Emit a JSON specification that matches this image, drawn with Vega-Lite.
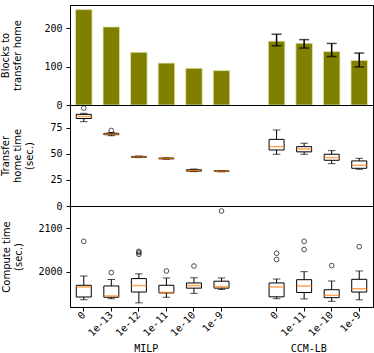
{
  "$schema": "https://vega.github.io/schema/vega-lite/v6.json",
  "padding": {"left": 0, "top": 4, "right": 0, "bottom": 0},
  "background": "white",
  "spacing": 0,
  "bounds": "flush",
  "config": {
    "view": {"stroke": "black", "strokeWidth": 1},
    "axis": {
      "grid": false,
      "domainColor": "black",
      "tickColor": "black",
      "tickSize": 4,
      "labelColor": "black",
      "labelFont": "DejaVu Sans Mono",
      "labelFontSize": 10,
      "labelPadding": 4,
      "labelOverlap": false,
      "labelFlush": false,
      "titleFont": "DejaVu Sans",
      "titleFontSize": 10,
      "titleFontWeight": "normal",
      "titleColor": "black",
      "titleLineHeight": 12,
      "titlePadding": 15
    }
  },
  "datasets": {
    "blocks": [
      {"run": "MILP 0", "blocks": 248},
      {"run": "MILP 1e-13", "blocks": 203},
      {"run": "MILP 1e-12", "blocks": 137},
      {"run": "MILP 1e-11", "blocks": 109},
      {"run": "MILP 1e-10", "blocks": 95.5},
      {"run": "MILP 1e-9", "blocks": 89.5},
      {"run": "CCM-LB 0", "blocks": 166, "lo": 154, "hi": 184},
      {"run": "CCM-LB 1e-11", "blocks": 160.5, "lo": 148, "hi": 170},
      {"run": "CCM-LB 1e-10", "blocks": 139, "lo": 126, "hi": 160},
      {"run": "CCM-LB 1e-9", "blocks": 116, "lo": 99, "hi": 135}
    ],
    "transfer": [
      {"run": "MILP 0", "min": 81, "q1": 84, "med": 86, "q3": 88, "max": 89},
      {"run": "MILP 1e-13", "min": 67.5, "q1": 68.5, "med": 69, "q3": 69.8, "max": 70.5},
      {"run": "MILP 1e-12", "min": 46.5, "q1": 46.8, "med": 47.2, "q3": 47.6, "max": 48},
      {"run": "MILP 1e-11", "min": 45, "q1": 45.3, "med": 45.7, "q3": 46, "max": 46.3},
      {"run": "MILP 1e-10", "min": 33, "q1": 33.5, "med": 34, "q3": 34.8, "max": 35.5},
      {"run": "MILP 1e-9", "min": 32.8, "q1": 33.1, "med": 33.4, "q3": 33.8, "max": 34},
      {"run": "CCM-LB 0", "min": 49.7, "q1": 53.8, "med": 57, "q3": 64, "max": 73},
      {"run": "CCM-LB 1e-11", "min": 49.7, "q1": 52, "med": 54.8, "q3": 57, "max": 60.3},
      {"run": "CCM-LB 1e-10", "min": 40.7, "q1": 43.9, "med": 46.5, "q3": 49.7, "max": 53.2},
      {"run": "CCM-LB 1e-9", "min": 35.3, "q1": 36.2, "med": 39.1, "q3": 43.3, "max": 45.8}
    ],
    "transfer_out": [
      {"run": "MILP 0", "value": 94},
      {"run": "MILP 1e-13", "value": 72.5}
    ],
    "compute": [
      {"run": "MILP 0", "min": 1935.3, "q1": 1941.6, "med": 1964.7, "q3": 1968.6, "max": 1990},
      {"run": "MILP 1e-13", "min": 1937.6, "q1": 1941, "med": 1944, "q3": 1967, "max": 1982},
      {"run": "MILP 1e-12", "min": 1928, "q1": 1953, "med": 1968, "q3": 1984, "max": 1995},
      {"run": "MILP 1e-11", "min": 1941, "q1": 1951, "med": 1952, "q3": 1968.6, "max": 1985.5},
      {"run": "MILP 1e-10", "min": 1950, "q1": 1962, "med": 1968, "q3": 1974, "max": 1986},
      {"run": "MILP 1e-9", "min": 1959, "q1": 1962, "med": 1965.4, "q3": 1978, "max": 1985.5},
      {"run": "CCM-LB 0", "min": 1937.7, "q1": 1942, "med": 1964.7, "q3": 1974, "max": 1983},
      {"run": "CCM-LB 1e-11", "min": 1937, "q1": 1952, "med": 1967, "q3": 1981.5, "max": 2000},
      {"run": "CCM-LB 1e-10", "min": 1931.6, "q1": 1940, "med": 1945.5, "q3": 1958.4, "max": 1978.5},
      {"run": "CCM-LB 1e-9", "min": 1935, "q1": 1953, "med": 1960.7, "q3": 1982.4, "max": 2001.6}
    ],
    "compute_out": [
      {"run": "MILP 0", "value": 2070},
      {"run": "MILP 1e-13", "value": 1998},
      {"run": "MILP 1e-12", "value": 2047},
      {"run": "MILP 1e-12", "value": 2044},
      {"run": "MILP 1e-12", "value": 2040},
      {"run": "MILP 1e-11", "value": 2001.6},
      {"run": "MILP 1e-10", "value": 2013},
      {"run": "MILP 1e-9", "value": 2140},
      {"run": "CCM-LB 0", "value": 2042.4},
      {"run": "CCM-LB 0", "value": 2028},
      {"run": "CCM-LB 1e-11", "value": 2070},
      {"run": "CCM-LB 1e-11", "value": 2051},
      {"run": "CCM-LB 1e-10", "value": 2014},
      {"run": "CCM-LB 1e-9", "value": 2057.7}
    ]
  },
  "vconcat": [
    {
      "width": 303,
      "height": 100,
      "encoding": {
        "x": {"field": "run", "type": "nominal", "sort": null,
          "scale": {"domain": ["MILP 0", "MILP 1e-13", "MILP 1e-12", "MILP 1e-11", "MILP 1e-10", "MILP 1e-9", "gap", "CCM-LB 0", "CCM-LB 1e-11", "CCM-LB 1e-10", "CCM-LB 1e-9"], "paddingInner": 0, "paddingOuter": 0},
          "axis": null}
      },
      "layer": [
        {
          "data": {"name": "blocks"},
          "mark": {"type": "bar", "color": "#808000", "stroke": "#e4e4b4", "strokeWidth": 0.8, "width": {"band": 0.6}},
          "encoding": {
            "y": {"field": "blocks", "type": "quantitative", "scale": {"domain": [0, 260], "nice": false},
              "axis": {"values": [0, 100, 200], "labelOverlap": false, "title": ["Blocks to", "transfer home"], "titlePadding": 21}}
          }
        },
        {
          "data": {"name": "blocks"},
          "transform": [{"filter": "isValid(datum.lo)"}],
          "mark": {"type": "rule", "color": "black", "strokeWidth": 1.5},
          "encoding": {
            "y": {"field": "lo", "type": "quantitative"},
            "y2": {"field": "hi"}
          }
        },
        {
          "data": {"name": "blocks"},
          "transform": [{"filter": "isValid(datum.lo)"}],
          "mark": {"type": "tick", "color": "black", "size": 10, "thickness": 1.5, "orient": "horizontal"},
          "encoding": {"y": {"field": "lo", "type": "quantitative"}}
        },
        {
          "data": {"name": "blocks"},
          "transform": [{"filter": "isValid(datum.lo)"}],
          "mark": {"type": "tick", "color": "black", "size": 10, "thickness": 1.5, "orient": "horizontal"},
          "encoding": {"y": {"field": "hi", "type": "quantitative"}}
        }
      ]
    },
    {
      "width": 303,
      "height": 101,
      "resolve": {"axis": {"y": "independent"}},
      "encoding": {
        "x": {"field": "run", "type": "nominal", "sort": null,
          "scale": {"domain": ["MILP 0", "MILP 1e-13", "MILP 1e-12", "MILP 1e-11", "MILP 1e-10", "MILP 1e-9", "gap", "CCM-LB 0", "CCM-LB 1e-11", "CCM-LB 1e-10", "CCM-LB 1e-9"], "paddingInner": 0, "paddingOuter": 0},
          "axis": null}
      },
      "layer": [
        {
          "data": {"name": "transfer"},
          "mark": {"type": "rule", "color": "black", "strokeWidth": 1},
          "encoding": {
            "y": {"field": "min", "type": "quantitative", "scale": {"domain": [0, 97], "nice": false},
              "axis": {"orient": "left", "values": [0, 50], "labelOverlap": false, "title": ["Transfer", "home time", "(sec.)"]}},
            "y2": {"field": "q1"}
          }
        },
        {
          "data": {"name": "transfer"},
          "mark": {"type": "rule", "color": "black", "strokeWidth": 1},
          "encoding": {"y": {"field": "q3", "type": "quantitative",
            "axis": {"orient": "left", "values": [25, 75], "labelOverlap": false, "title": null}}, "y2": {"field": "max"}}
        },
        {
          "data": {"name": "transfer"},
          "mark": {"type": "tick", "color": "black", "size": 7.5, "thickness": 1, "orient": "horizontal"},
          "encoding": {"y": {"field": "min", "type": "quantitative", "axis": null}}
        },
        {
          "data": {"name": "transfer"},
          "mark": {"type": "tick", "color": "black", "size": 7.5, "thickness": 1, "orient": "horizontal"},
          "encoding": {"y": {"field": "max", "type": "quantitative", "axis": null}}
        },
        {
          "data": {"name": "transfer"},
          "mark": {"type": "bar", "fill": "white", "stroke": "black", "strokeWidth": 1, "width": 15},
          "encoding": {"y": {"field": "q1", "type": "quantitative", "axis": null}, "y2": {"field": "q3"}}
        },
        {
          "data": {"name": "transfer"},
          "mark": {"type": "tick", "color": "#ff7f0e", "size": 15, "thickness": 1.5, "orient": "horizontal"},
          "encoding": {"y": {"field": "med", "type": "quantitative", "axis": null}}
        },
        {
          "data": {"name": "transfer_out"},
          "mark": {"type": "point", "shape": "circle", "filled": false, "color": "black", "size": 22, "strokeWidth": 1},
          "encoding": {"y": {"field": "value", "type": "quantitative", "axis": null}}
        }
      ]
    },
    {
      "width": 303,
      "height": 101,
      "encoding": {
        "x": {"field": "run", "type": "nominal", "sort": null,
          "scale": {"domain": ["MILP 0", "MILP 1e-13", "MILP 1e-12", "MILP 1e-11", "MILP 1e-10", "MILP 1e-9", "gap", "CCM-LB 0", "CCM-LB 1e-11", "CCM-LB 1e-10", "CCM-LB 1e-9"], "paddingInner": 0, "paddingOuter": 0},
          "axis": {
            "labelExpr": "datum.value == 'gap' ? '' : split(datum.value, ' ')[1]",
            "labelAngle": -45,
            "labelAlign": "right",
            "labelBaseline": "middle",
            "labelPadding": 2,
            "labelOverlap": false,
            "tickOpacity": {"condition": {"test": "datum.value == 'gap'", "value": 0}, "value": 1},
            "title": "MILP\u00a0\u00a0\u00a0\u00a0\u00a0\u00a0\u00a0\u00a0\u00a0\u00a0\u00a0\u00a0\u00a0\u00a0\u00a0\u00a0\u00a0\u00a0\u00a0\u00a0\u00a0\u00a0CCM-LB",
            "titleFont": "DejaVu Sans Mono",
            "titleX": 160,
            "titleY": 41,
            "titleAlign": "center",
            "titleBaseline": "middle"
          }
        }
      },
      "layer": [
        {
          "data": {"name": "compute"},
          "mark": {"type": "rule", "color": "black", "strokeWidth": 1},
          "encoding": {
            "y": {"field": "min", "type": "quantitative", "scale": {"domain": [1918.5, 2151.5], "nice": false, "zero": false},
              "axis": {"values": [2000, 2100], "format": "d", "labelOverlap": false, "title": ["Compute time", "(sec.)"], "titlePadding": 14}},
            "y2": {"field": "q1"}
          }
        },
        {
          "data": {"name": "compute"},
          "mark": {"type": "rule", "color": "black", "strokeWidth": 1},
          "encoding": {"y": {"field": "q3", "type": "quantitative"}, "y2": {"field": "max"}}
        },
        {
          "data": {"name": "compute"},
          "mark": {"type": "tick", "color": "black", "size": 7.5, "thickness": 1, "orient": "horizontal"},
          "encoding": {"y": {"field": "min", "type": "quantitative"}}
        },
        {
          "data": {"name": "compute"},
          "mark": {"type": "tick", "color": "black", "size": 7.5, "thickness": 1, "orient": "horizontal"},
          "encoding": {"y": {"field": "max", "type": "quantitative"}}
        },
        {
          "data": {"name": "compute"},
          "mark": {"type": "bar", "fill": "white", "stroke": "black", "strokeWidth": 1, "width": 15},
          "encoding": {"y": {"field": "q1", "type": "quantitative"}, "y2": {"field": "q3"}}
        },
        {
          "data": {"name": "compute"},
          "mark": {"type": "tick", "color": "#ff7f0e", "size": 15, "thickness": 1.5, "orient": "horizontal"},
          "encoding": {"y": {"field": "med", "type": "quantitative"}}
        },
        {
          "data": {"name": "compute_out"},
          "mark": {"type": "point", "shape": "circle", "filled": false, "color": "black", "size": 22, "strokeWidth": 1},
          "encoding": {"y": {"field": "value", "type": "quantitative"}}
        }
      ]
    }
  ]
}
